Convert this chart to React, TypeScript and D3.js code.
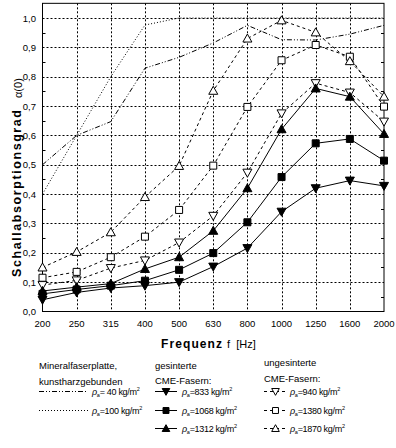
import React, { useEffect, useRef } from 'react';
import * as d3 from 'd3';

// frequency bands (Hz)
const categories = ['200', '250', '315', '400', '500', '630', '800', '1000', '1250', '1600', '2000'];
const yTicks = [0, 0.1, 0.2, 0.3, 0.4, 0.5, 0.6, 0.7, 0.8, 0.9, 1.0];
const yMinorTicks = [0.05, 0.15, 0.25, 0.35, 0.45, 0.55, 0.65, 0.75, 0.85, 0.95];

// Mineralfaserplatte
const mineral40 = [0.5, 0.6, 0.647, 0.829, 0.866, 0.915, 0.975, 0.926, 0.925, 0.945, 0.975];
const mineral100 = [0.4, 0.6, 0.8, 0.976, 1.0, 1.0, 1.0, 1.0, 1.0, 1.0, 1.0];

// gesinterte CME-Fasern
const sint833 = [0.04, 0.065, 0.08, 0.088, 0.1, 0.153, 0.216, 0.34, 0.42, 0.446, 0.428];
const sint1068 = [0.06, 0.075, 0.088, 0.105, 0.142, 0.199, 0.304, 0.458, 0.573, 0.588, 0.514];
const sint1312 = [0.07, 0.083, 0.095, 0.145, 0.185, 0.275, 0.42, 0.621, 0.76, 0.732, 0.605];

// ungesinterte CME-Fasern
const unsint940 = [0.09, 0.106, 0.148, 0.174, 0.235, 0.326, 0.473, 0.675, 0.778, 0.746, 0.647];
const unsint1380 = [0.115, 0.135, 0.185, 0.255, 0.346, 0.497, 0.697, 0.856, 0.908, 0.868, 0.698];
const unsint1870 = [0.15, 0.203, 0.27, 0.39, 0.496, 0.752, 0.93, 0.992, 0.951, 0.853, 0.732];

const FONT = 'Liberation Sans, Arial, sans-serif';

type Shape = 'tri-down' | 'square' | 'tri-up';

const markerPath = (shape: Shape, k = 1) => {
  if (shape === 'square') return `M${-3.5 * k},${-3.5 * k}H${3.5 * k}V${3.5 * k}H${-3.5 * k}Z`;
  if (shape === 'tri-up') return `M0,${-4.5 * k}L${4.5 * k},${3.5 * k}L${-4.5 * k},${3.5 * k}Z`;
  return `M0,${4.5 * k}L${4.5 * k},${-3.5 * k}L${-4.5 * k},${-3.5 * k}Z`;
};

const seriesList = [
  { values: mineral40, dash: '5,2,1,2,1,2', shape: null, filled: false },
  { values: mineral100, dash: '1,2', shape: null, filled: false },
  { values: unsint940, dash: '3,3', shape: 'tri-down', filled: false },
  { values: unsint1380, dash: '3,3', shape: 'square', filled: false },
  { values: unsint1870, dash: '3,3', shape: 'tri-up', filled: false },
  { values: sint833, dash: null, shape: 'tri-down', filled: true },
  { values: sint1068, dash: null, shape: 'square', filled: true },
  { values: sint1312, dash: null, shape: 'tri-up', filled: true },
];

const ChartSvg = () => {
  const ref = useRef<SVGSVGElement | null>(null);

  useEffect(() => {
    if (!ref.current) return;
    const svg = d3.select(ref.current);
    svg.selectAll('*').remove();

    const left = 42.5;
    const right = 384;
    const bottom = 311.5;

    const x = d3.scalePoint<string>().domain(categories).range([left, right]);
    // 1,0 sits at y≈18, frame top a little above
    const y = d3.scaleLinear().domain([0, 1.05]).range([bottom, bottom - 1.05 * (bottom - 18)]);

    // grid
    const grid = svg.append('g').attr('stroke', '#000').attr('stroke-width', 1).attr('stroke-dasharray', '2,2');
    grid.selectAll('.gx')
      .data(categories.slice(1, -1))
      .enter()
      .append('line')
      .attr('x1', d => Math.round(x(d)!) + 0.5)
      .attr('x2', d => Math.round(x(d)!) + 0.5)
      .attr('y1', y(1.05))
      .attr('y2', bottom);
    grid.selectAll('.gy')
      .data(yTicks.slice(1))
      .enter()
      .append('line')
      .attr('x1', left)
      .attr('x2', right)
      .attr('y1', d => Math.round(y(d)) + 0.5)
      .attr('y2', d => Math.round(y(d)) + 0.5);

    // frame
    svg.append('rect')
      .attr('x', left)
      .attr('y', y(1.05))
      .attr('width', right - left)
      .attr('height', bottom - y(1.05))
      .attr('fill', 'none')
      .attr('stroke', '#000');

    // minor ticks, both sides, inward
    const minor = svg.append('g').attr('stroke', '#000');
    minor.selectAll('.ml')
      .data(yMinorTicks)
      .enter()
      .append('line')
      .attr('x1', left)
      .attr('x2', left + 3)
      .attr('y1', d => Math.round(y(d)) + 0.5)
      .attr('y2', d => Math.round(y(d)) + 0.5);
    minor.selectAll('.mr')
      .data(yMinorTicks)
      .enter()
      .append('line')
      .attr('x1', right)
      .attr('x2', right - 3)
      .attr('y1', d => Math.round(y(d)) + 0.5)
      .attr('y2', d => Math.round(y(d)) + 0.5);

    // tick labels
    svg.selectAll('.yl')
      .data(yTicks)
      .enter()
      .append('text')
      .attr('x', 36)
      .attr('y', d => y(d) + 3.5)
      .attr('text-anchor', 'end')
      .attr('font-family', FONT)
      .attr('font-size', 9.5)
      .text(d => d3.format('.1f')(d).replace('.', ','));

    svg.selectAll('.xl')
      .data(categories)
      .enter()
      .append('text')
      .attr('x', d => x(d)!)
      .attr('y', 327)
      .attr('text-anchor', 'middle')
      .attr('font-family', FONT)
      .attr('font-size', 9.5)
      .text(d => d);

    // series lines
    const line = d3.line<number>()
      .x((_, i) => x(categories[i])!)
      .y(d => y(d));

    seriesList.forEach(s => {
      svg.append('path')
        .datum(s.values)
        .attr('d', line)
        .attr('fill', 'none')
        .attr('stroke', '#000')
        .attr('stroke-width', 1)
        .attr('stroke-dasharray', s.dash);
    });

    // markers
    seriesList.forEach(s => {
      if (!s.shape) return;
      svg.selectAll(null)
        .data(s.values)
        .enter()
        .append('path')
        .attr('transform', (d, i) => `translate(${x(categories[i])},${y(d)})`)
        .attr('d', markerPath(s.shape as Shape))
        .attr('fill', s.filled ? '#000' : '#fff')
        .attr('stroke', '#000')
        .attr('stroke-width', 1);
    });

    // axis titles
    svg.append('text')
      .attr('transform', 'translate(21,277) rotate(-90)')
      .attr('font-family', FONT)
      .attr('font-size', 12.5)
      .attr('font-weight', 'bold')
      .attr('textLength', 167)
      .attr('lengthAdjust', 'spacing')
      .text('Schallabsorptionsgrad');
    svg.append('text')
      .attr('transform', 'translate(22,98) rotate(-90)')
      .attr('font-family', FONT)
      .attr('font-size', 11)
      .text('α(0)');

    svg.append('text')
      .attr('x', 161)
      .attr('y', 347.5)
      .attr('font-family', FONT)
      .attr('font-size', 12)
      .attr('font-weight', 'bold')
      .attr('textLength', 61)
      .attr('lengthAdjust', 'spacing')
      .text('Frequenz');
    svg.append('text')
      .attr('x', 227)
      .attr('y', 347.5)
      .attr('font-family', FONT)
      .attr('font-size', 11)
      .attr('xml:space', 'preserve')
      .text('f  [Hz]');

    // legend
    const lg = svg.append('g').attr('font-family', FONT).attr('font-size', 9.5);
    const addText = (tx: number, ty: number, s: string) =>
      lg.append('text').attr('x', tx).attr('y', ty).text(s);
    addText(39, 368.5, 'Mineralfaserplatte,');
    addText(39, 385, 'kunstharzgebunden');
    addText(155, 368.5, 'gesinterte');
    addText(155, 384, 'CME-Fasern:');
    addText(264, 365.5, 'ungesinterte');
    addText(264, 381.5, 'CME-Fasern:');

    const rho = (tx: number, ty: number, val: string) => {
      const t = lg.append('text').attr('x', tx).attr('y', ty).attr('font-size', 9).attr('letter-spacing', -0.3);
      t.append('tspan').attr('font-style', 'italic').text('ρ');
      t.append('tspan').attr('font-size', 5.5).attr('dy', 2.5).text('a');
      t.append('tspan').attr('dy', -2.5).text(`=${val} kg/m`);
      t.append('tspan').attr('font-size', 5.5).attr('dy', -4).text('2');
    };

    const rows = [391, 410, 428];
    const col1 = [
      { dash: '5,2,1,2,1,2', val: ' 40' },
      { dash: '1,2', val: '100' },
    ];
    col1.forEach((c, i) => {
      lg.append('line')
        .attr('x1', 39).attr('x2', 88)
        .attr('y1', rows[i] + 0.5).attr('y2', rows[i] + 0.5)
        .attr('stroke', '#000').attr('stroke-dasharray', c.dash);
      rho(92, rows[i] + 3.5, c.val);
    });

    const col2 = [
      { shape: 'tri-down', val: '833' },
      { shape: 'square', val: '1068' },
      { shape: 'tri-up', val: '1312' },
    ];
    col2.forEach((c, i) => {
      lg.append('line')
        .attr('x1', 155).attr('x2', 177)
        .attr('y1', rows[i] + 0.5).attr('y2', rows[i] + 0.5)
        .attr('stroke', '#000');
      lg.append('path')
        .attr('transform', `translate(166,${rows[i] + 0.5})`)
        .attr('d', markerPath(c.shape as Shape, 0.85))
        .attr('fill', '#000').attr('stroke', '#000');
      rho(182, rows[i] + 3.5, c.val);
    });

    const col3 = [
      { shape: 'tri-down', val: '940' },
      { shape: 'square', val: '1380' },
      { shape: 'tri-up', val: '1870' },
    ];
    col3.forEach((c, i) => {
      lg.append('line')
        .attr('x1', 264).attr('x2', 287)
        .attr('y1', rows[i] + 0.5).attr('y2', rows[i] + 0.5)
        .attr('stroke', '#000').attr('stroke-dasharray', '3,3');
      lg.append('path')
        .attr('transform', `translate(275.5,${rows[i] + 0.5})`)
        .attr('d', markerPath(c.shape as Shape, 0.85))
        .attr('fill', '#fff').attr('stroke', '#000');
      rho(290, rows[i] + 3.5, c.val);
    });
  }, []);

  return <svg ref={ref} width={396} height={448} style={{ display: 'block', background: '#fff' }} />;
};

export default function App() {
  return (
    <div style={{ position: 'absolute', left: 0, top: 0, width: 396, height: 448, background: '#fff' }}>
      <ChartSvg />
    </div>
  );
}
